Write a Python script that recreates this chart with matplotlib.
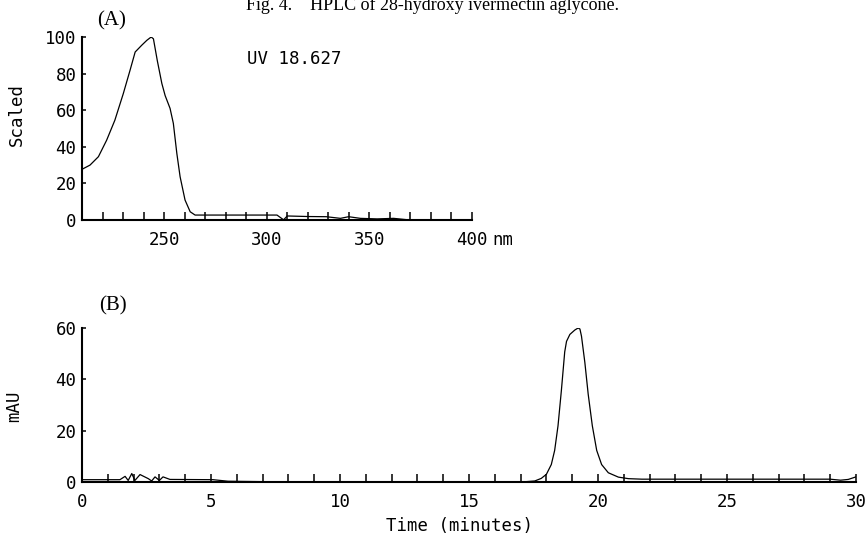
import matplotlib
matplotlib.use('Agg')
import matplotlib.pyplot as plt
import numpy as np

# (A) UV spectrum at 18.627 min, scaled absorbance vs wavelength (nm)
uv_nm = [210, 213.9, 218, 222, 226, 230.1, 233.4, 235.9, 239.1, 241.6, 243.7,
         244.8, 246.7, 248.9, 250.5, 252.9, 254.5, 256.2, 257.8, 260.2, 262.7,
         265.1, 280, 300, 305, 308.2, 310, 320, 329, 335.9, 339.9, 345.6, 353.8,
         361.8, 368, 380, 400]
uv_scaled = [27.7, 30, 34.6, 43.6, 54.5, 69, 81.8, 91.8, 95.5, 98.2, 100,
             99, 87, 74.6, 68, 61, 52.8, 36.4, 23.6, 10.9, 4.5,
             2.7, 2.7, 2.7, 2.7, 0.1, 2.2, 1.9, 1.8, 0.9, 1.8, 0.9, 0.6,
             0.9, 0.2, 0.2, 0.2]

# (B) chromatogram, mAU vs retention time (min)
t_min = [0, 1.47, 1.67, 1.79, 1.93, 2.05, 2.25, 2.57, 2.7, 2.83, 3.0, 3.14, 3.41,
         5.08, 5.66, 8.2, 17.03, 17.55, 17.8, 18.0, 18.19, 18.32, 18.45, 18.58,
         18.71, 18.78, 18.91, 19.1, 19.23, 19.3, 19.36, 19.49, 19.62, 19.78,
         19.95, 20.14, 20.4, 20.79, 21.18, 21.7, 25.0, 29.0, 29.4, 29.7, 30.0]
mau = [0.9, 0.9, 2.2, 0.6, 3.3, 0.6, 2.9, 1.3, 0.4, 2.0, 0.6, 2.0, 1.0,
       0.9, 0.3, 0.0, 0.0, 0.4, 1.4, 3.0, 6.8, 12.3, 21.9, 35.6,
       50.7, 54.8, 57.5, 59.2, 60, 59.6, 56.8, 46.6, 34.2, 21.9,
       12.3, 6.8, 3.6, 1.9, 1.3, 1.1, 1.1, 1.1, 0.7, 1.0, 2.0]

W, H = 866, 540
plt.rcParams['font.family'] = 'DejaVu Sans Mono'
plt.rcParams['font.size'] = 12.5
fig = plt.figure(figsize=(W / 100, H / 100), dpi=100)

serif = 'Liberation Serif'

# caption is partly cut by the top edge in the scanned original
fig.text(0.5, 1 - 10 / H, 'Fig. 4.    HPLC of 28-hydroxy ivermectin aglycone.',
         ha='center', va='baseline', fontsize=13, family=serif)


def style(ax):
    for s in ['top', 'right']:
        ax.spines[s].set_visible(False)
    for s in ['left', 'bottom']:
        ax.spines[s].set_linewidth(1.5)
    ax.tick_params(axis='x', which='both', direction='in', length=6, width=1.1, pad=8)
    ax.tick_params(axis='y', direction='in', length=3, width=1.1, pad=4)


# panel A
axA = fig.add_axes([82 / W, 1 - 220 / H, (472 - 82) / W, (220 - 37) / H])
axA.plot(uv_nm, uv_scaled, color='black', lw=0.9)
axA.set_xlim(210, 400)
axA.set_ylim(0, 100)
axA.set_xticks([250, 300, 350, 400])
axA.set_xticks(np.arange(210, 401, 10), minor=True)
axA.set_yticks(np.arange(0, 101, 20))
style(axA)
axA.annotate('nm', xy=(1, 0), xycoords='axes fraction', xytext=(15, -8),
             textcoords='offset points', ha='left', va='top')
fig.text(17 / W, 1 - 114 / H, 'Scaled', rotation=90, ha='center', va='center')
fig.text(247 / W, 1 - 58.5 / H, 'UV 18.627', va='center', ha='left')
fig.text(112 / W, 1 - 21 / H, '(A)', fontsize=15, family=serif,
         ha='center', va='center')

# panel B
axB = fig.add_axes([82 / W, 1 - 482 / H, (856 - 82) / W, (482 - 328) / H])
axB.plot(t_min, mau, color='black', lw=0.9)
axB.set_xlim(0, 30)
axB.set_ylim(0, 60)
axB.set_xticks(np.arange(0, 31, 5))
axB.set_xticks(np.arange(0, 31, 1), minor=True)
axB.set_yticks([0, 20, 40, 60])
style(axB)
fig.text(14 / W, 1 - 406 / H, 'mAU', rotation=90, ha='center', va='center')
fig.text(459 / W, 1 - 526 / H, 'Time (minutes)', ha='center', va='center')
fig.text(113 / W, 1 - 306 / H, '(B)', fontsize=15, family=serif,
         ha='center', va='center')

fig.savefig('out.png', dpi=100)
